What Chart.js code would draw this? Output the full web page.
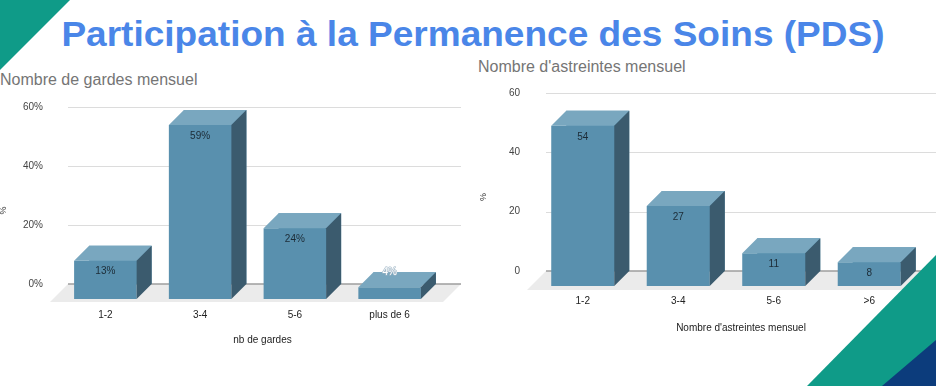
<!DOCTYPE html>
<html>
<head>
<meta charset="utf-8">
<script src="https://cdn.jsdelivr.net/npm/chart.js@4.4.1/dist/chart.umd.min.js"></script>
<style>
  html, body { margin: 0; padding: 0; background: #fff; }
  body { width: 936px; height: 386px; position: relative; overflow: hidden;
         font-family: 'Liberation Sans', Arial, sans-serif; }
  .title { position: absolute; left: 5px; top: 16px; width: 936px; text-align: center;
           font-size: 35px; line-height: 35px; font-weight: bold; color: #4a86e8;
           transform: scaleX(1.058); white-space: nowrap; }
  .sub { position: absolute; font-size: 16px; line-height: 16px; color: #757575; white-space: nowrap; }
  canvas { position: absolute; }
  .tri { position: absolute; clip-path: polygon(100% 0, 100% 100%, 0 100%); }
</style>
</head>
<body>
<div class="title">Participation à la Permanence des Soins (PDS)</div>
<div class="sub" style="left:0; top:72px">Nombre de gardes mensuel</div>
<div class="sub" style="left:478px; top:59px">Nombre d'astreintes mensuel</div>

<canvas id="gardes" width="470" height="260" style="left:0; top:90px"></canvas>
<canvas id="astreintes" width="466" height="260" style="left:470px; top:80px"></canvas>

<div style="position:absolute; left:0; top:0; width:70px; height:70px; background:#0f9b88; clip-path:polygon(0 0,100% 0,0 100%)"></div>
<div class="tri" style="left:807px; top:255px; width:129px; height:131px; background:#0f9b88"></div>
<div class="tri" style="left:882px; top:340px; width:54px; height:46px; background:#0c3c7c"></div>

<script>
// nb de gardes
const gardesLabels = ['1-2', '3-4', '5-6', 'plus de 6'];
const gardesValues = [13, 59, 24, 4];

// nb d'astreintes
const astreintesLabels = ['1-2', '3-4', '5-6', '>6'];
const astreintesValues = [54, 27, 11, 8];

const DEPTH = 15;
const FRONT = '#5990ae', TOP = '#79a7bf', SIDE = '#3b5b6e';

Chart.defaults.font.family = "'Liberation Sans', Arial, sans-serif";
Chart.defaults.font.size = 10;

function poly(ctx, pts, color) {
    ctx.beginPath();
    ctx.moveTo(pts[0][0], pts[0][1]);
    for (let i = 1; i < pts.length; i++) ctx.lineTo(pts[i][0], pts[i][1]);
    ctx.closePath();
    ctx.fillStyle = color;
    ctx.fill();
}

// fake 3d: grid, floor and the box faces around each bar
const box3d = {
    id: 'box3d',
    beforeDatasetsDraw(chart, args, opts) {
        const { ctx, chartArea, scales: { y } } = chart;
        const l = chartArea.left - opts.gridLeft, r = chartArea.right + opts.gridRight;
        const zero = y.getPixelForValue(0);
        const fd = opts.floorDepth;
        ctx.save();
        ctx.strokeStyle = '#dcdcdc';
        ctx.lineWidth = 1;
        y.ticks.forEach(t => {
            if (t.value === 0) return;
            const py = Math.round(y.getPixelForValue(t.value)) + 0.5;
            ctx.beginPath(); ctx.moveTo(l, py); ctx.lineTo(r, py); ctx.stroke();
        });
        poly(ctx, [[l, zero], [r, zero], [r - fd, zero + fd], [l - fd, zero + fd]], '#ebebeb');
        ctx.strokeStyle = '#9e9e9e';
        ctx.lineWidth = 1.5;
        ctx.beginPath(); ctx.moveTo(l, zero); ctx.lineTo(r, zero); ctx.stroke();
        ctx.restore();
    },
    afterDatasetsDraw(chart, args, opts) {
        const { ctx } = chart;
        const values = chart.data.datasets[0].data;
        ctx.save();
        chart.getDatasetMeta(0).data.forEach((bar, i) => {
            const { x, y, base, width } = bar.getProps(['x', 'y', 'base', 'width'], true);
            const l = x - width / 2, r = x + width / 2, d = DEPTH;
            poly(ctx, [[l - d, y + d], [r - d, y + d], [r - d, base + d], [l - d, base + d]], FRONT);
            poly(ctx, [[l - d, y + d], [l, y], [r, y], [r - d, y + d]], TOP);
            poly(ctx, [[r - d, y + d], [r, y], [r, base], [r - d, base + d]], SIDE);

            ctx.font = "10px 'Liberation Sans', Arial, sans-serif";
            ctx.textAlign = 'center';
            ctx.textBaseline = 'middle';
            const txt = values[i] + opts.suffix;
            if (base - y > 18) {
                ctx.fillStyle = '#1c2b36';
                ctx.fillText(txt, x - d, y + d + 11);
            } else {
                // too short: white label sitting on the top edge
                ctx.strokeStyle = '#9fb6c6';
                ctx.lineWidth = 1.2;
                ctx.strokeText(txt, x - d, y);
                ctx.fillStyle = '#ffffff';
                ctx.fillText(txt, x - d, y);
            }
        });
        ctx.restore();
    }
};

function makeChart(id, labels, values, cfg) {
    return new Chart(document.getElementById(id), {
        type: 'bar',
        data: {
            labels: labels,
            datasets: [{
                data: values,
                backgroundColor: FRONT,
                categoryPercentage: 1,
                barPercentage: 0.66
            }]
        },
        plugins: [box3d],
        options: {
            responsive: false,
            animation: false,
            layout: { padding: { top: cfg.top, right: cfg.right, left: 0, bottom: 0 } },
            plugins: {
                legend: { display: false },
                tooltip: { enabled: false },
                box3d: { gridLeft: cfg.gridLeft, gridRight: cfg.gridRight, floorDepth: cfg.floorDepth, suffix: cfg.suffix }
            },
            scales: {
                x: {
                    // tick marks hidden, tickLength only used as label gap
                    grid: { display: false, drawTicks: true, tickLength: cfg.xPad - 4 },
                    border: { display: false },
                    ticks: { color: '#222', padding: 4, labelOffset: -DEPTH, maxRotation: 0 },
                    title: { display: true, text: cfg.xTitle, color: '#222', font: { size: 10 }, padding: { top: 0, bottom: cfg.titlePad } },
                    afterFit: s => { s.height = cfg.xHeight; }
                },
                y: {
                    min: 0, max: 60,
                    grid: { display: false, drawTicks: true, tickLength: cfg.yPad - 4 },
                    border: { display: false },
                    ticks: { stepSize: 20, color: '#444', padding: 4, callback: v => v + cfg.suffix },
                    title: { display: true, text: '%' + '\u00a0'.repeat(12), color: '#333', font: { size: 9 }, padding: { top: cfg.yTitlePad, bottom: 0 } },
                    afterFit: s => { s.width = cfg.yWidth; }
                }
            }
        }
    });
}

makeChart('gardes', gardesLabels, gardesValues, {
    top: 17, right: 18, yWidth: 73, xHeight: 66, xPad: 25, titlePad: 4, yPad: 30, yTitlePad: -2,
    gridLeft: 5, gridRight: 9, floorDepth: 18, suffix: '%', xTitle: 'nb de gardes'
});

makeChart('astreintes', astreintesLabels, astreintesValues, {
    top: 13, right: 4, yWidth: 80, xHeight: 69, xPad: 24, titlePad: 6, yPad: 30, yTitlePad: 8,
    gridLeft: 4, gridRight: 4, floorDepth: 19, suffix: '', xTitle: "Nombre d'astreintes mensuel"
});
</script>
</body>
</html>
